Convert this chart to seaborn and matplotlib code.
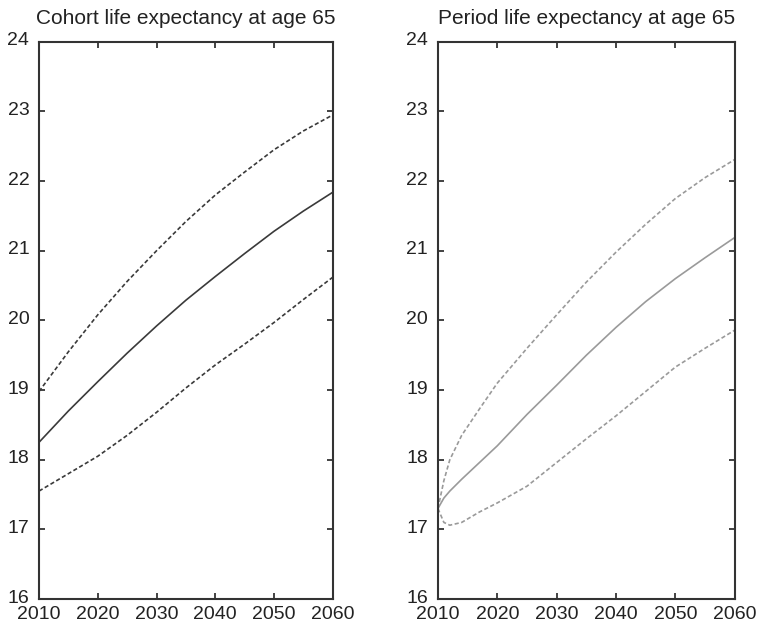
import numpy as np
import pandas as pd
import matplotlib
matplotlib.use("Agg")
import matplotlib.pyplot as plt
import matplotlib.transforms as mtransforms
import seaborn as sns

# cohort life expectancy at 65 (left panel)
cohort_years = [2010, 2015, 2020, 2025, 2030, 2035, 2040, 2045, 2050, 2055, 2060]
cohort_mid = [18.25, 18.70, 19.12, 19.53, 19.92, 20.29, 20.63, 20.96, 21.28, 21.57, 21.84]
cohort_hi = [18.98, 19.55, 20.08, 20.56, 21.00, 21.42, 21.80, 22.13, 22.45, 22.72, 22.95]
cohort_lo = [17.55, 17.80, 18.05, 18.35, 18.68, 19.03, 19.36, 19.66, 19.97, 20.30, 20.62]

# period life expectancy at 65 (right panel)
period_years = [2010, 2011, 2012, 2014, 2017, 2020, 2025, 2030, 2035, 2040, 2045, 2050, 2055, 2060]
period_mid = [17.30, 17.45, 17.55, 17.72, 17.96, 18.20, 18.65, 19.07, 19.50, 19.90, 20.27, 20.60, 20.90, 21.19]
period_hi = [17.30, 17.70, 18.00, 18.35, 18.73, 19.10, 19.60, 20.08, 20.55, 20.98, 21.38, 21.75, 22.05, 22.31]
period_lo = [17.30, 17.10, 17.06, 17.10, 17.25, 17.38, 17.62, 17.96, 18.30, 18.63, 18.98, 19.33, 19.60, 19.86]

titles = ["Cohort life expectancy at age 65", "Period life expectancy at age 65"]
x_ticks = [2010, 2020, 2030, 2040, 2050, 2060]
y_ticks = [16, 17, 18, 19, 20, 21, 22, 23, 24]

sns.set_style("ticks")
plt.rcParams['font.family'] = ['Liberation Sans', 'DejaVu Sans']

fig = plt.figure(figsize=(7.59, 6.24), dpi=100)
ax1 = fig.add_axes([0.0514, 0.040, 0.387, 0.893])
ax2 = fig.add_axes([0.577, 0.040, 0.391, 0.893])

panels = [
    (ax1, cohort_years, cohort_mid, cohort_hi, cohort_lo, "#3a3a3a"),
    (ax2, period_years, period_mid, period_hi, period_lo, "#9a9a9a"),
]

# y tick labels sit a little above their ticks in the original
lift = mtransforms.ScaledTranslation(0, 3 / 100, fig.dpi_scale_trans)

for i, (ax, yrs, mid, hi, lo, col) in enumerate(panels):
    sns.lineplot(x=yrs, y=mid, ax=ax, color=col, linewidth=1.2)
    sns.lineplot(x=yrs, y=hi, ax=ax, color=col, linewidth=1.2, linestyle=(0, (2.5, 1.5)))
    sns.lineplot(x=yrs, y=lo, ax=ax, color=col, linewidth=1.2, linestyle=(0, (2.5, 1.5)))
    ax.set_xlim(2010, 2060)
    ax.set_ylim(16, 24)
    ax.set_xticks(x_ticks)
    ax.set_yticks(y_ticks)
    ax.tick_params(direction="in", length=4, width=1.2, colors="#222222",
                   labelsize=14, top=True, right=True)
    ax.tick_params(axis="y", pad=7)
    ax.tick_params(axis="x", pad=5)
    for lab in ax.get_yticklabels():
        lab.set_transform(lab.get_transform() + lift)
    for s in ax.spines.values():
        s.set_visible(True)
        s.set_linewidth(1.5)
        s.set_color("#333333")
    ax.set_title(titles[i], fontsize=15, pad=13, color="#222222")
    ax.set_xlabel("")
    ax.set_ylabel("")

fig.savefig("out.png", dpi=100)
